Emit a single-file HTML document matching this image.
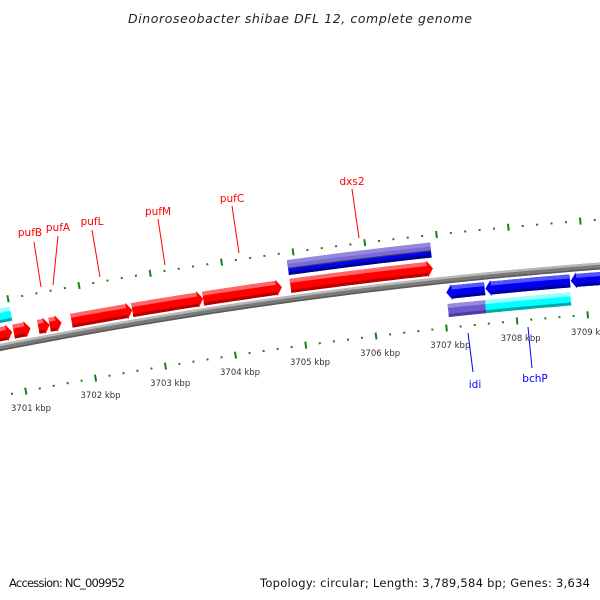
<!DOCTYPE html>
<html><head><meta charset="utf-8"><style>
html,body{margin:0;padding:0;background:#fff}
svg{display:block}
text{font-family:"DejaVu Sans","Liberation Sans",sans-serif}
</style></head><body>
<svg id="chart" width="600" height="600" viewBox="0 0 600 600" xmlns="http://www.w3.org/2000/svg">
<rect width="600" height="600" fill="#fff"/>
<text x="300" y="23" text-anchor="middle" font-size="12.5" font-style="italic" fill="#222" textLength="344">Dinoroseobacter shibae DFL 12, complete genome</text>
<g id="ticks"></g>
<g id="backbone"></g>
<g id="genes"></g>
<g id="labels">
<g fill="#ff0000" font-size="10.5" text-anchor="middle">
<text x="30" y="236">pufB</text>
<text x="58" y="231">pufA</text>
<text x="92" y="225">pufL</text>
<text x="158" y="215">pufM</text>
<text x="232" y="202">pufC</text>
<text x="352" y="185">dxs2</text>
</g>
<g stroke="#ff0000" stroke-width="1">
<line x1="34" y1="242" x2="41" y2="287"/>
<line x1="58" y1="236" x2="53" y2="285"/>
<line x1="92" y1="230" x2="100" y2="277"/>
<line x1="158" y1="219" x2="165" y2="265"/>
<line x1="232" y1="206" x2="239" y2="253"/>
<line x1="352" y1="189" x2="359" y2="238"/>
</g>
<g stroke="#0000ff" stroke-width="1">
<line x1="468" y1="333" x2="473" y2="372"/>
<line x1="528" y1="327" x2="532" y2="368"/>
</g>
<g fill="#0000ff" font-size="10.5" text-anchor="middle">
<text x="475" y="388">idi</text>
<text x="535" y="382">bchP</text>
</g>
</g>
<text x="9" y="587" font-size="11.5" fill="#111" textLength="116">Accession: NC_009952</text>
<text x="590" y="587" font-size="11.5" fill="#111" text-anchor="end" textLength="330">Topology: circular; Length: 3,789,584 bp; Genes: 3,634</text>
</svg>
<script>
// ---- data ----
const geneStarts = [3700.4, 3700.99, 3701.34, 3701.5, 3701.81, 3702.67, 3703.67, 3704.9, 3704.9, 3707.05, 3707.6, 3708.8, 3707.05, 3707.58, 3700.3];
const geneEnds   = [3700.97, 3701.23, 3701.5, 3701.67, 3702.67, 3703.67, 3704.78, 3706.9, 3706.9, 3707.59, 3708.79, 3709.5, 3707.58, 3708.78, 3701.0];
const geneStrand = [1,1,1,1,1,1,1,1,0,-1,-1,-1,0,0,0];
const geneColor  = ['red','red','red','red','red','red','red','red','dxs','blue','blue','blue','purple','cyan','cyan'];
const geneRow    = [1,1,1,1,1,1,1,1,2,-1,-1,-1,-2,-2,2];
const tickKbp = [3699, 3700, 3701, 3702, 3703, 3704, 3705, 3706, 3707, 3708, 3709, 3710];
const tickLabels = ['3699 kbp','3700 kbp','3701 kbp','3702 kbp','3703 kbp','3704 kbp','3705 kbp','3706 kbp','3707 kbp','3708 kbp','3709 kbp','3710 kbp'];

// ---- geometry ----
const NS='http://www.w3.org/2000/svg';
function circ(p1,p2,p3){
  const [ax,ay]=p1,[bx,by]=p2,[cx,cy]=p3;
  const d=2*(ax*(by-cy)+bx*(cy-ay)+cx*(ay-by));
  const ux=((ax*ax+ay*ay)*(by-cy)+(bx*bx+by*by)*(cy-ay)+(cx*cx+cy*cy)*(ay-by))/d;
  const uy=((ax*ax+ay*ay)*(cx-bx)+(bx*bx+by*by)*(ax-cx)+(cx*cx+cy*cy)*(bx-ax))/d;
  return [ux,uy];
}
const C=circ([0,347.5],[430,281.8],[600,266]);
const dist=(p)=>Math.hypot(p[0]-C[0],p[1]-C[1]);
const angOf=(p)=>Math.atan2(p[1]-C[1],p[0]-C[0]);
const R=dist([0,347.5]);
const a1=angOf([26,392]), a8=angOf([517,320]);
const Rlow=(dist([26,392])+dist([517,320]))/2;
const Rhigh=(dist([293,253])+dist([580,220]))/2;
function ang(k){return a1+(k-3701)*(a8-a1)/7;}
function P(k,off){const a=ang(k),r=R+off;return [C[0]+r*Math.cos(a),C[1]+r*Math.sin(a)];}
function Pr(k,r){const a=ang(k);return [C[0]+r*Math.cos(a),C[1]+r*Math.sin(a)];}
function pts(arr){return arr.map(p=>p[0].toFixed(2)+','+p[1].toFixed(2)).join(' ');}
function el(tag,attrs,parent){const e=document.createElementNS(NS,tag);for(const k in attrs)e.setAttribute(k,attrs[k]);parent.appendChild(e);return e;}

// ---- ticks ----
const tg=document.getElementById('ticks');
for(let k=3699;k<=3710.01;k+=0.2){
  const kk=Math.round(k*5)/5;
  const major=Math.abs(kk-Math.round(kk))<1e-6;
  for(const rr of [Rlow,Rhigh]){
    const h=major?3.5:1;
    const a=Pr(kk,rr-h),b=Pr(kk,rr+h);
    const t=el('line',{x1:a[0],y1:a[1],x2:b[0],y2:b[1],stroke:'#1a7f1a','stroke-width':2},tg);
    
    
  }
}
tickKbp.forEach((k,i)=>{
  const p=Pr(k,Rlow-17);
  const t=el('text',{x:p[0]+2,y:p[1]+3,'font-size':8.5,'text-anchor':'middle',fill:'#333'},tg);
  t.textContent=tickLabels[i];
  
  
});

// ---- backbone ----
const bg=document.getElementById('backbone');
function arcPts(k0,k1,off){const a=[];for(let k=k0;k<=k1;k+=0.1)a.push(P(k,off));return a;}
const band=(o1,o2,col)=>{const p=arcPts(3698,3711,o1).concat(arcPts(3698,3711,o2).reverse());
  const e=el('polygon',{points:pts(p),fill:col},bg);
  
  };
band(-3.5,3.5,'#7a7a7a');
band(1.2,3.5,'#b8b8b8');
band(-3.5,-2,'#5a5a5a');

// ---- genes ----
const cols={red:['#ff0000','#ff6666','#b80000'],blue:['#0000ee','#5555ff','#000099'],cyan:['#00ffff','#99ffff','#00aaaa'],purple:['#6a5acd','#958be0','#4a3c9a'],dxs:['#0000ff','#4a4aff','#00008a']};
const rows={1:[6,20],2:[24,38],'-1':[-19,-6],'-2':[-37,-24]};
const gg=document.getElementById('genes');
for(let i=0;i<geneStarts.length;i++){
  const s=geneStarts[i],e=geneEnds[i],st=geneStrand[i];
  const [lo,hi]=rows[geneRow[i]];const mid=(lo+hi)/2;
  const c=cols[geneColor[i]];
  const g=el('g',{},gg);
  
  
  const head=Math.min(0.08,(e-s)*0.5);
  let poly;
  if(st===1){
    const b=e-head;
    poly=[P(s,lo),...arcPts(s,b,lo).slice(1),P(b,lo),P(b,lo-1.5),P(e,mid),P(b,hi+1.5),P(b,hi),...arcPts(s,b,hi).reverse()];
  }else if(st===-1){
    const b=s+head;
    poly=[P(s,mid),P(b,lo-1.5),P(b,lo),...arcPts(b,e,lo),P(e,lo),P(e,hi),...arcPts(b,e,hi).reverse(),P(b,hi),P(b,hi+1.5)];
  }else{
    poly=[...arcPts(s,e,lo),P(e,lo),P(e,hi),...arcPts(s,e,hi).reverse(),P(s,hi)];
  }
  el('polygon',{points:pts(poly),fill:c[0]},g);
  const bs=st===-1?s+head:s, be=st===1?e-head:e;
  const out=[lo,hi], top=Math.max(lo,hi), bot=Math.min(lo,hi);
  // highlight on outer-facing (upper) edge, dark on lower edge
  el('polygon',{points:pts([...arcPts(bs,be,top-4),P(be,top-4),P(be,top),...arcPts(bs,be,top).reverse(),P(bs,top)]),fill:c[1]},g);
  el('polygon',{points:pts([...arcPts(bs,be,bot),P(be,bot),P(be,bot+3),...arcPts(bs,be,bot+3).reverse(),P(bs,bot+3)]),fill:c[2]},g);
  if(geneColor[i]==='dxs'){
    el('polygon',{points:pts([...arcPts(s,e,31),P(e,31),P(e,39),...arcPts(s,e,39).reverse(),P(s,39)]),fill:'#7a6ad4'},g);
    el('polygon',{points:pts([...arcPts(s,e,35),P(e,35),P(e,39),...arcPts(s,e,39).reverse(),P(s,39)]),fill:'#9488dd'},g);
    el('polygon',{points:pts([...arcPts(s,e,30),P(e,30),P(e,31.2),...arcPts(s,e,31.2).reverse(),P(s,31.2)]),fill:'#333366'},g);
  }
}
</script>
</body></html>
